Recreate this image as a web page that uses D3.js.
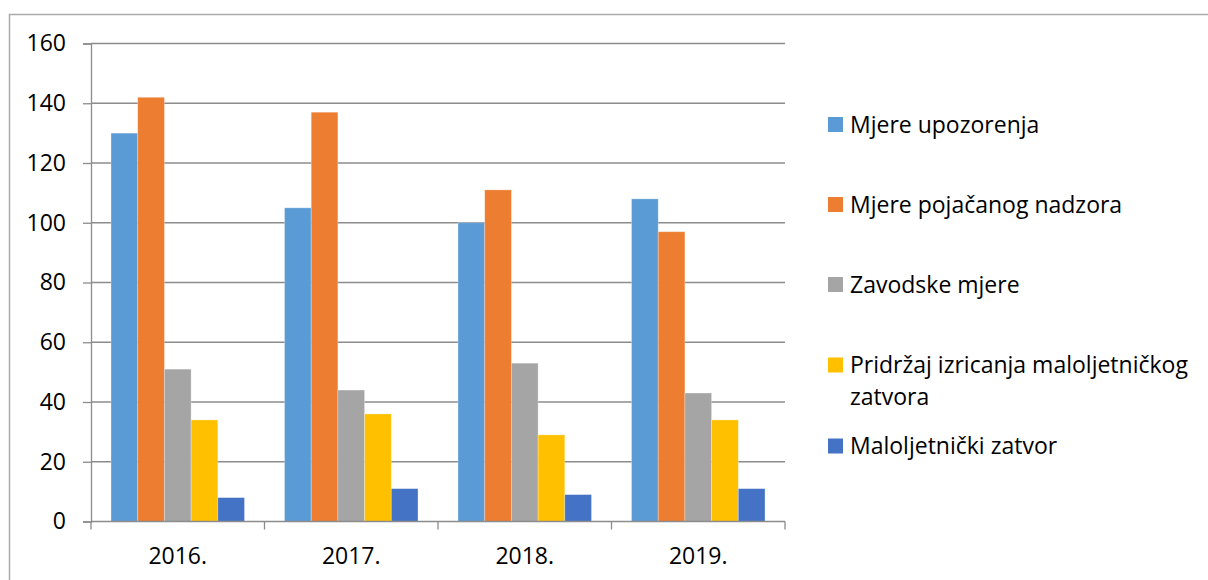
<!DOCTYPE html>
<html lang="hr">
<head>
<meta charset="utf-8">
<title>Mjere po godinama</title>
<script src="https://cdn.jsdelivr.net/npm/d3@7"></script>
<style>
  html, body { margin: 0; padding: 0; background: #fff; }
  svg text { font-family: "Open Sans", "Liberation Sans", sans-serif; fill: #000; }
</style>
</head>
<body>
<script>
var w = 1208;
var h = 580;

// data
var years = ["2016.", "2017.", "2018.", "2019."];
var seriesNames = [
  "Mjere upozorenja",
  "Mjere pojačanog nadzora",
  "Zavodske mjere",
  "Pridržaj izricanja maloljetničkog zatvora",
  "Maloljetnički zatvor"
];
var upozorenja = [130, 105, 100, 108];
var pojacaniNadzor = [142, 137, 111, 97];
var zavodske = [51, 44, 53, 43];
var pridrzaj = [34, 36, 29, 34];
var zatvor = [8, 11, 9, 11];
var yTicks = [0, 20, 40, 60, 80, 100, 120, 140, 160];

var colors = ["#5B9BD5", "#ED7D31", "#A5A5A5", "#FFC000", "#4472C4"];
var allSeries = [upozorenja, pojacaniNadzor, zavodske, pridrzaj, zatvor];

var plotLeft = 91, plotRight = 785, plotTop = 43.5, plotBottom = 521.5;

var svg = d3.select("body").append("svg")
  .attr("width", w)
  .attr("height", h);

// outer chart border (runs off the right and bottom edge)
svg.append("rect")
  .attr("x", 9.5).attr("y", 14.5)
  .attr("width", w + 20).attr("height", h + 20)
  .attr("fill", "none")
  .attr("stroke", "#ABABAB")
  .attr("stroke-width", 1.5);

var y = d3.scaleLinear().domain([0, 160]).range([plotBottom, plotTop]);

var x0 = d3.scaleBand()
  .domain(years)
  .range([plotLeft, plotRight])
  .paddingInner(0)
  .paddingOuter(0);

var x1 = d3.scaleBand()
  .domain(d3.range(seriesNames.length))
  .range([0, x0.bandwidth()])
  .paddingInner(0)
  .paddingOuter(0.75);

// gridlines
svg.append("g")
  .selectAll("line")
  .data(yTicks.slice(1))
  .enter()
  .append("line")
  .attr("x1", plotLeft).attr("x2", plotRight)
  .attr("y1", function(d) { return y(d); })
  .attr("y2", function(d) { return y(d); })
  .attr("stroke", "#8C8C8C")
  .attr("stroke-width", 1.3);

// bars
var groups = svg.append("g")
  .selectAll("g")
  .data(years)
  .enter()
  .append("g")
  .attr("transform", function(d) { return "translate(" + x0(d) + ",0)"; });

groups.selectAll("rect")
  .data(function(d, i) {
    return allSeries.map(function(s, k) { return { k: k, v: s[i] }; });
  })
  .enter()
  .append("rect")
  .attr("x", function(d) { return x1(d.k); })
  .attr("y", function(d) { return y(d.v); })
  .attr("width", x1.bandwidth())
  .attr("height", function(d) { return plotBottom - y(d.v); })
  .attr("fill", function(d) { return colors[d.k]; })
  .attr("stroke", "#fff")
  .attr("stroke-opacity", 0.35)
  .attr("stroke-width", 0.8);

// y axis
var yAxis = d3.axisLeft(y)
  .tickValues(yTicks)
  .tickSize(8)
  .tickPadding(17);

var gy = svg.append("g")
  .attr("transform", "translate(" + plotLeft + ",0)")
  .call(yAxis);
gy.select(".domain").attr("stroke", "#8C8C8C").attr("stroke-width", 1.3);
gy.selectAll(".tick line").attr("stroke", "#8C8C8C").attr("stroke-width", 1.3);
gy.selectAll("text")
  .attr("font-size", "23px")
  .attr("font-family", "Open Sans")
  .attr("fill", "#000");

// x axis: labels centered, ticks at band edges
var xAxis = d3.axisBottom(x0).tickSize(0).tickPadding(26);
var gx = svg.append("g")
  .attr("transform", "translate(0," + plotBottom + ")")
  .call(xAxis);
gx.select(".domain").remove();
gx.selectAll("text")
  .attr("font-size", "23px")
  .attr("font-family", "Open Sans")
  .attr("fill", "#000");

svg.append("line")
  .attr("x1", plotLeft).attr("x2", plotRight)
  .attr("y1", plotBottom).attr("y2", plotBottom)
  .attr("stroke", "#8C8C8C").attr("stroke-width", 1.3);

var edges = years.map(function(d) { return x0(d); }).concat([plotRight]);
svg.append("g")
  .selectAll("line")
  .data(edges)
  .enter()
  .append("line")
  .attr("x1", function(d) { return d; })
  .attr("x2", function(d) { return d; })
  .attr("y1", plotBottom).attr("y2", plotBottom + 8)
  .attr("stroke", "#8C8C8C").attr("stroke-width", 1.3);

// legend
var legendY = [124.5, 204.5, 284.5, 365, 446];
var legend = svg.append("g")
  .selectAll("g")
  .data(seriesNames)
  .enter()
  .append("g")
  .attr("transform", function(d, i) { return "translate(828," + legendY[i] + ")"; });

legend.append("rect")
  .attr("x", 0).attr("y", -7.5)
  .attr("width", 15).attr("height", 15)
  .attr("fill", function(d, i) { return colors[i]; });

legend.append("text")
  .attr("x", 22)
  .attr("y", 8)
  .attr("font-size", "23px")
  .each(function(d) {
    var t = d3.select(this);
    if (d === "Pridržaj izricanja maloljetničkog zatvora") {
      t.append("tspan").attr("x", 22).attr("y", 8).text("Pridržaj izricanja maloljetničkog");
      t.append("tspan").attr("x", 22).attr("y", 40).text("zatvora");
    } else {
      t.text(d);
    }
  });
</script>
</body>
</html>
